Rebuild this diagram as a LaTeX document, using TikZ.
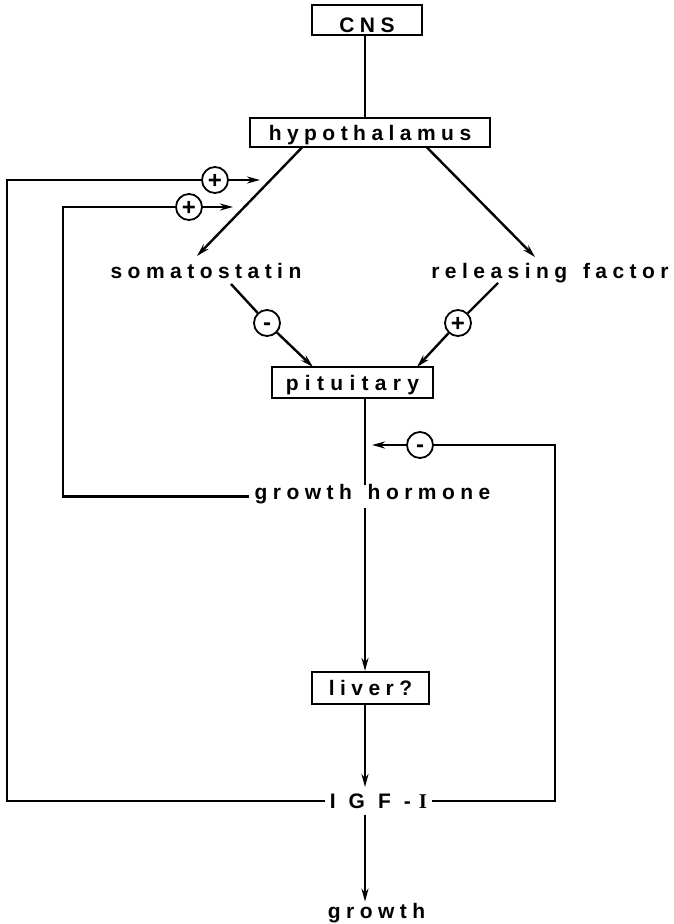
\documentclass[tikz,border=0pt]{standalone}
\usepackage{fontspec}
\setmainfont{Liberation Sans}[LetterSpace=26, WordSpace=1.4]
\newfontfamily\serifI{Liberation Serif}
\newfontfamily\signfont{Liberation Sans}
\usetikzlibrary{arrows.meta}
\begin{document}
\begin{tikzpicture}[x=1pt,y=-1pt, line width=2.4pt,
  every node/.style={font=\fontsize{21}{24}\selectfont\bfseries},
  box/.style={draw, line width=2.2pt, inner sep=0pt, text height=15pt, text depth=0pt},
  lbl/.style={inner sep=0pt},
  sgn/.style={circle, draw, line width=1.8pt, minimum size=26pt, inner sep=0pt, fill=white,
    font=\signfont\fontsize{24}{24}\selectfont\bfseries, text depth=0pt},
  plus/.style={sgn, text height=17pt},
  minus/.style={sgn, text height=14pt},
  arr/.style={-{Stealth[length=13pt,width=7pt]}}]
\useasboundingbox (0,0) rectangle (673,924);

% boxes and labels
\node[box, minimum width=110pt, minimum height=30pt, text height=24pt] (cns) at (367,20) {CNS};
\node[box, minimum width=240pt, minimum height=29pt] (hyp) at (370,132.5) {hypothalamus};
\node[lbl, anchor=base] (som) at (206,278) {somatostatin};
\node[lbl, anchor=base] (rel) at (550,278) {releasing factor};
\node[box, minimum width=161pt, minimum height=31pt] (pit) at (352.5,382.5) {\addfontfeature{LetterSpace=30}pituitary};
\node[lbl, anchor=base] (gh) at (372.5,499) {growth hormone};
\node[box, minimum width=117pt, minimum height=32pt] (liver) at (370.5,688) {liver?};
\node[lbl, anchor=base, inner xsep=4pt] (igf) at (378.5,808) {{\addfontfeature{LetterSpace=62}IGF-}\hspace{8pt}{\serifI\bfseries I}};
\node[lbl, anchor=base] (grw) at (376.5,918) {growth};

% sign circles
\node[plus] (p1) at (215,180) {+};
\node[plus] (p2) at (189,207) {+};
\node[minus] (m1) at (267,323) {-};
\node[plus] (p3) at (458,323) {+};
\node[minus] (m2) at (420,445) {-};

% free ends
\coordinate (vx) at (365,0);
\coordinate (hL) at (302,147.5);
\coordinate (hR) at (427,147.5);
\coordinate (sTip) at (197,256);
\coordinate (rTip) at (535,257);
\coordinate (sOut) at (231,284);
\coordinate (rOut) at (498,283);
\coordinate (pL) at (313,367);
\coordinate (pR) at (417,367);
\coordinate (ghT) at (365,485);
\coordinate (ghB) at (365,508);
\coordinate (igT) at (365,787);
\coordinate (igB) at (365,815);
\coordinate (oC) at (7,180);
\coordinate (iC) at (63,207);
\coordinate (rC) at (555,445);
\coordinate (oTip) at (260,180);
\coordinate (iTip) at (233,207);
\coordinate (mTip) at (372,445);

% connectors
\draw (cns.south -| vx) -- (hyp.north -| vx);
\draw[arr] (hL) -- (sTip);
\draw[arr] (hR) -- (rTip);
\draw (sOut) -- (m1);
\draw[arr] (m1) -- (pL);
\draw (rOut) -- (p3);
\draw[arr] (p3) -- (pR);
\draw (pit.south -| vx) -- (ghT);
\draw[arr] (ghB) -- (liver.north -| vx);
\draw[arr] (liver.south -| vx) -- (igT);
\draw[arr] (igB) -- (grw.north -| vx);
\draw (igf.west) -| (oC) -- (p1);
\draw[arr] (p1) -- (oTip);
\draw ([yshift=-3pt,xshift=-4pt]gh.west) -| (iC) -- (p2);
\draw[arr] (p2) -- (iTip);
\draw (igf.east) -| (rC) -- (m2);
\draw[arr] (m2) -- (mTip);
\end{tikzpicture}
\end{document}
